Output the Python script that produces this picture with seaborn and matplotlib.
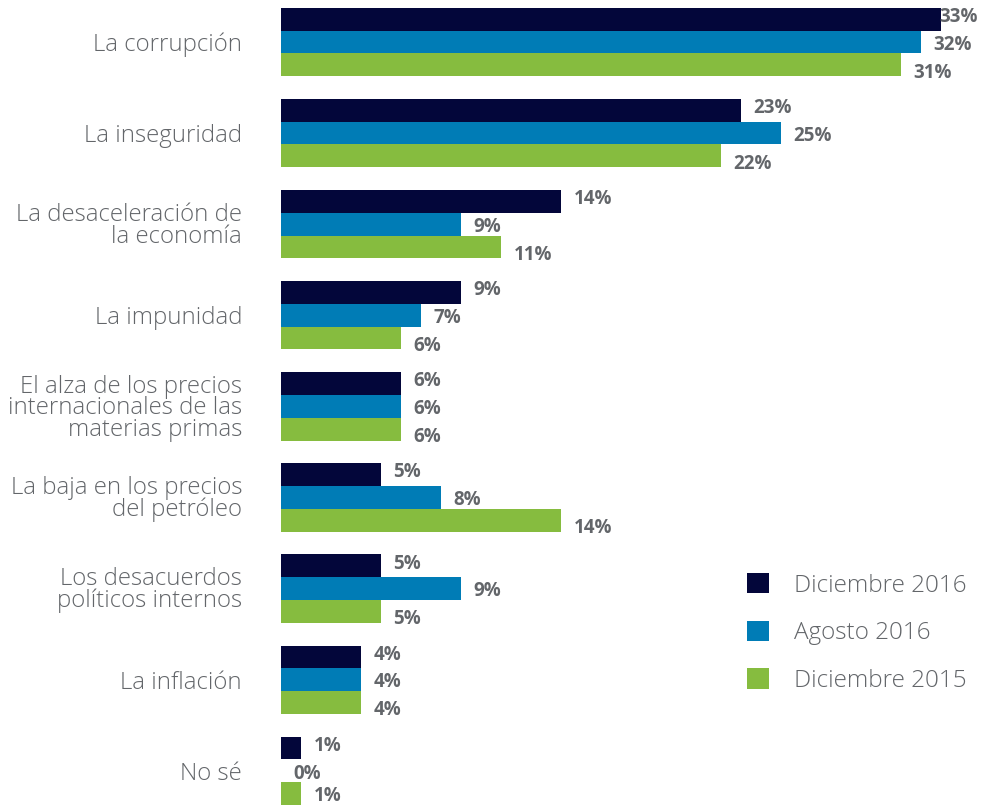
import matplotlib
matplotlib.use("Agg")
import matplotlib.pyplot as plt
from matplotlib.patches import Patch
import pandas as pd
import seaborn as sns

# data (percent of respondents)
categories = [
    "La corrupción",
    "La inseguridad",
    "La desaceleración de\nla economía",
    "La impunidad",
    "El alza de los precios\ninternacionales de las\nmaterias primas",
    "La baja en los precios\ndel petróleo",
    "Los desacuerdos\npolíticos internos",
    "La inflación",
    "No sé",
]
periods = ["Diciembre 2016", "Agosto 2016", "Diciembre 2015"]
dic_2016 = [33, 23, 14, 9, 6, 5, 5, 4, 1]
ago_2016 = [32, 25, 9, 7, 6, 8, 9, 4, 0]
dic_2015 = [31, 22, 11, 6, 6, 14, 5, 4, 1]
colors = ["#03063a", "#007cb6", "#86bc3f"]
TEXT = "#63666a"

df = pd.DataFrame({
    "categoria": categories * 3,
    "periodo": [p for p in periods for _ in categories],
    "valor": dic_2016 + ago_2016 + dic_2015,
})

sns.set_style("white")
plt.rcParams["font.family"] = ["Open Sans", "DejaVu Sans"]

W, H = 981, 808
fig = plt.figure(figsize=(W / 100, H / 100), dpi=100)
ax = fig.add_axes([281 / W, 0, 700 / W, 1])

sns.barplot(data=df, y="categoria", x="valor", hue="periodo", hue_order=periods,
            palette=colors, orient="h", width=0.75, saturation=1, ax=ax,
            legend=False, edgecolor="none", linewidth=0)

ax.set_xlim(0, 35)
ax.set_ylim(8.408, -0.461)

# value labels: a bit more spread out vertically than the bars themselves,
# kept inside the figure (longest bar on the right, last row at the bottom)
for k, (cont, vals) in enumerate(zip(ax.containers, [dic_2016, ago_2016, dic_2015])):
    for bar, v in zip(cont, vals):
        y = bar.get_y() + bar.get_height() / 2 + 0.03 + (k - 1) * 0.055
        ax.text(min(v + 0.62, 32.9), min(y, 8.28), f"{v}%", va="center", ha="left",
                fontsize=13.5, fontweight="bold", color=TEXT)

ax.set_xlabel("")
ax.set_ylabel("")
ax.set_xticks([])
ax.tick_params(axis="y", length=0, pad=28)
for lab in ax.get_yticklabels():
    lab.set_fontsize(17.3)
    lab.set_fontweight("light")
    lab.set_color(TEXT)
    lab.set_linespacing(0.86)
sns.despine(ax=ax, left=True, bottom=True)

handles = [Patch(facecolor=c, edgecolor="none") for c in colors]
leg = fig.legend(handles, periods, loc="center left",
                 bbox_to_anchor=(747 / W, 1 - 633 / H), bbox_transform=fig.transFigure,
                 frameon=False, fontsize=17.5, handlelength=0.9, handleheight=0.9,
                 handletextpad=1.05, labelspacing=0.95, borderpad=0, borderaxespad=0)
for t in leg.get_texts():
    t.set_color(TEXT)
    t.set_fontweight("light")

fig.savefig("out.png", dpi=100)
